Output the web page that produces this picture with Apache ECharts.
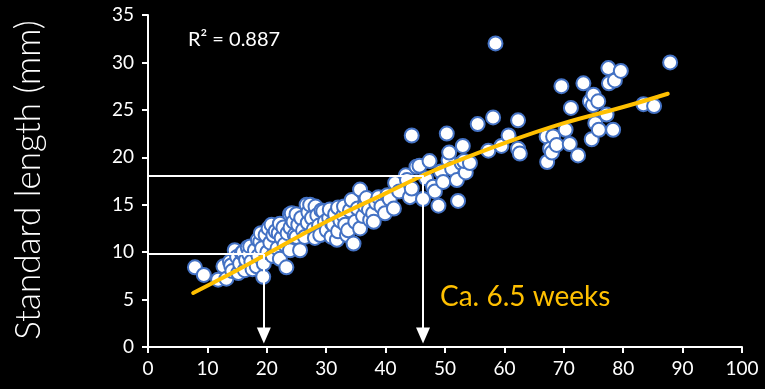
<!DOCTYPE html>
<html><head><meta charset="utf-8">
<script src="https://cdn.jsdelivr.net/npm/echarts@6/dist/echarts.min.js"></script>
<style>html,body{margin:0;padding:0;background:#000;}#c{width:765px;height:389px;}</style>
</head><body><div id="c"></div>
<script>
// Age (days) and standard length (mm)
const points = [
[7.9,8.4],[9.4,7.6],[11.8,7.1],[12.7,8.5],[13.2,7.2],[13.8,9.0],[14.0,8.6],[14.2,8.0],[14.6,10.2],[15.0,9.5],[15.2,7.8],[15.5,8.8],[15.8,9.9],[16.0,10.0],[16.3,8.1],[16.5,9.2],[16.8,10.5],[17.0,9.8],[17.2,10.6],[17.4,9.0],[17.6,8.2],[18.0,10.2],[18.3,8.5],[18.5,11.3],[18.6,9.6],[18.9,11.1],[19.0,12.0],[19.2,10.4],[19.4,7.4],[19.5,8.8],[19.8,11.8],[20.1,10.0],
[20.3,12.5],[20.6,11.0],[20.8,12.9],[21.0,9.6],[21.1,11.8],[21.5,12.2],[21.8,10.4],[22.0,12.0],[22.2,9.3],[22.2,13.0],[22.5,11.5],[22.8,12.6],[23.0,10.8],[23.3,8.4],[23.5,12.0],[23.9,14.0],[23.9,10.2],[24.0,12.6],[24.2,14.1],[24.5,13.2],[24.7,11.8],[25.0,11.6],[25.0,14.0],[25.3,12.9],[25.6,10.2],[25.8,13.6],[26.1,12.3],[26.4,11.6],[26.7,15.0],[26.9,13.1],[27.0,14.2],[27.3,15.0],[27.6,13.6],[27.9,12.4],[28.1,11.5],[28.2,14.8],[28.5,13.9],[28.8,12.8],[29.0,11.8],[29.2,14.4],[29.5,14.3],[29.8,13.2],
[30.1,12.3],[30.5,13.6],[30.6,14.5],[30.9,11.6],[31.0,13.0],[31.2,12.9],[31.5,14.0],[31.8,11.3],[32.0,14.7],[32.0,12.2],[32.4,13.3],[32.9,13.9],[33.0,14.8],[33.2,12.9],[33.5,11.8],[33.7,12.3],[34.0,14.4],[34.3,15.5],[34.6,10.9],[34.9,13.2],[35.3,14.6],[35.7,16.6],[35.7,12.5],[36.2,13.8],[36.5,14.9],[36.8,15.7],[37.2,14.5],[37.4,13.4],[37.9,14.1],[38.0,13.2],[38.4,15.2],[38.8,15.8],[39.3,14.8],[39.9,14.1],[40.3,16.0],[40.7,15.6],
[41.4,14.6],[41.6,17.3],[42.3,16.4],[43.4,18.1],[43.6,17.6],[44.1,15.8],[44.4,16.7],[44.4,22.3],[45.2,19.0],[45.7,19.1],[46.3,15.6],[46.8,17.8],[47.4,19.6],[48.0,16.9],[48.3,16.4],[48.9,14.9],[49.3,18.5],[49.7,17.4],[50.3,22.5],[50.6,19.7],[50.7,20.5],[51.2,18.8],[52.0,17.6],[52.2,15.4],[52.8,19.4],[53.0,21.2],[53.5,18.4],[53.2,19.6],[54.2,19.4],
[55.5,23.5],[57.3,20.7],[58.1,24.2],[58.5,32.0],[59.5,21.2],[60.7,22.3],[62.3,23.9],[62.3,20.9],[62.6,20.4],[67.1,22.2],[67.2,19.5],[67.7,20.9],[68.0,20.5],[68.2,22.2],[68.8,21.3],[69.6,27.5],[70.3,22.9],[71.0,21.4],[71.2,25.2],[72.4,20.2],[73.3,27.8],[74.4,25.9],[74.7,21.9],[74.9,25.5],[75.0,26.6],[75.3,23.6],[75.8,25.9],[75.9,22.9],[77.2,24.5],[77.5,29.4],[77.6,27.8],[78.3,22.9],[78.6,28.1],[79.6,29.1],[83.4,25.6],[85.2,25.4],[87.9,30.0]
];
const trendX = [7.6, 15, 20, 30, 40, 46, 50, 60, 70, 80, 87.5];
const trendY = [5.7, 8.1, 9.8, 13.2, 16.2, 18.0, 19.1, 21.5, 23.6, 25.3, 26.7];
const xTicks = [0,10,20,30,40,50,60,70,80,90,100];
const yTicks = [0,5,10,15,20,25,30,35];
const guides = [[19.5, 9.8], [46.3, 18.1]];
const arrowEndY = 1.2;
const r2Text = 'R² = 0.887';
const noteText = 'Ca. 6.5 weeks';
const yTitle = 'Standard length (mm)';

const chart = echarts.init(document.getElementById('c'));
const font = 'Lato, "Open Sans", sans-serif';
const axisCommon = {
  axisLine:{show:true, lineStyle:{color:'#fff', width:2}},
  axisTick:{show:true, inside:false, length:6, lineStyle:{color:'#fff', width:2}},
  splitLine:{show:false}
};
chart.setOption({
  backgroundColor:'#000',
  animation:false,
  grid:{left:148, right:23, top:15, bottom:42},
  xAxis:Object.assign({type:'value', min:xTicks[0], max:xTicks[xTicks.length-1], interval:10}, axisCommon,
    {axisLabel:{color:'#fff', fontSize:19, fontFamily:font, margin:12}}),
  yAxis:Object.assign({type:'value', min:yTicks[0], max:yTicks[yTicks.length-1], interval:5}, axisCommon,
    {axisLabel:{color:'#fff', fontSize:19, fontFamily:font, margin:14}}),
  graphic:[
    {type:'text', left:188, top:30, style:{text:r2Text, fill:'#fff', font:'20px '+font}},
    {type:'text', left:440, top:283, style:{text:noteText, fill:'#FFC000', font:'28px '+font}},
    {type:'text', x:29, y:180, rotation:Math.PI/2, style:{text:yTitle, fill:'#fff', font:'300 35px '+font, align:'center', verticalAlign:'middle'}}
  ],
  series:[
    {type:'line', data:[], silent:true,
      markLine:{silent:true, symbol:'none', animation:false, label:{show:false},
        lineStyle:{color:'#fff', width:2, type:'solid'},
        data:guides.map(g=>[{coord:[0,g[1]]},{coord:[g[0],g[1]]}])}},
    {type:'line', data:[], silent:true,
      markLine:{silent:true, symbol:['none','triangle'], symbolSize:[14,16], animation:false, label:{show:false},
        lineStyle:{color:'#fff', width:2, type:'solid'},
        data:guides.map(g=>[{coord:[g[0],g[1]]},{coord:[g[0],arrowEndY]}])}},
    {type:'scatter', data:points, symbol:'circle', symbolSize:14,
      itemStyle:{color:'#fff', borderColor:'#4472C4', borderWidth:2, opacity:1}},
    {type:'line', data:trendX.map((x,i)=>[x,trendY[i]]), smooth:0.4, showSymbol:false, symbol:'none',
      lineStyle:{color:'#FFC000', width:4, cap:'round'}}
  ]
});
</script></body></html>
